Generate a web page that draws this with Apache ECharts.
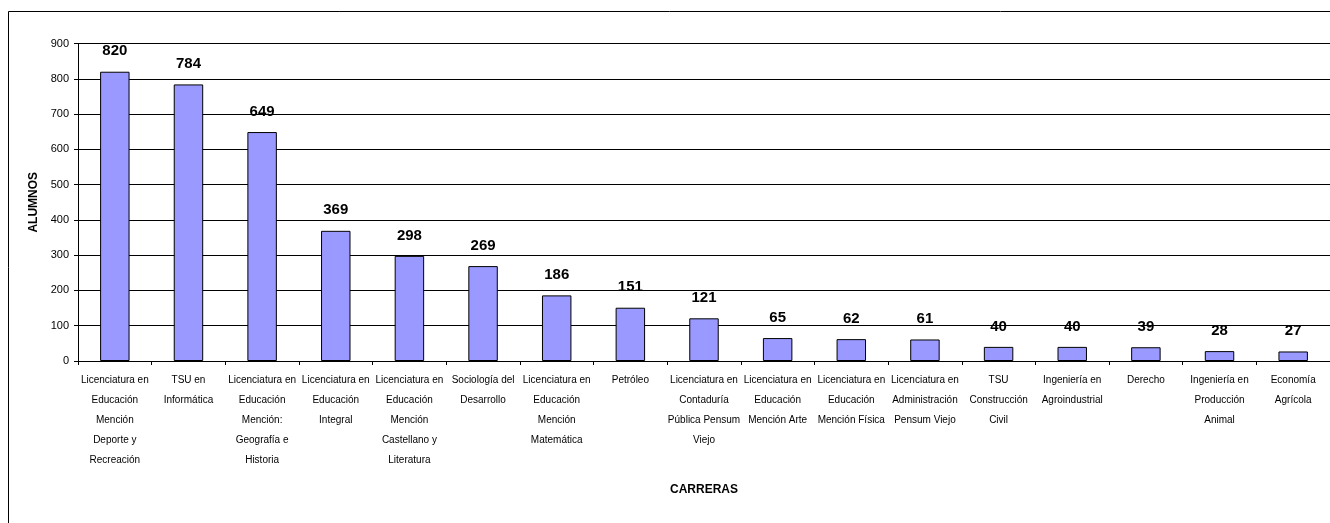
<!DOCTYPE html>
<html><head><meta charset="utf-8">
<script src="https://cdn.jsdelivr.net/npm/echarts@6/dist/echarts.min.js"></script>
<style>html,body{margin:0;padding:0;background:#fff}#c{width:1330px;height:523px}</style>
</head><body><div id="c"></div>
<script>
const categories = [
  "Licenciatura en\nEducación\nMención\nDeporte y\nRecreación",
  "TSU en\nInformática",
  "Licenciatura en\nEducación\nMención:\nGeografía e\nHistoria",
  "Licenciatura en\nEducación\nIntegral",
  "Licenciatura en\nEducación\nMención\nCastellano y\nLiteratura",
  "Sociología del\nDesarrollo",
  "Licenciatura en\nEducación\nMención\nMatemática",
  "Petróleo",
  "Licenciatura en\nContaduría\nPública Pensum\nViejo",
  "Licenciatura en\nEducación\nMención Arte",
  "Licenciatura en\nEducación\nMención Física",
  "Licenciatura en\nAdministración\nPensum Viejo",
  "TSU\nConstrucción\nCivil",
  "Ingeniería en\nAgroindustrial",
  "Derecho",
  "Ingeniería en\nProducción\nAnimal",
  "Economía\nAgrícola"
];
const alumnos = [820, 784, 649, 369, 298, 269, 186, 151, 121, 65, 62, 61, 40, 40, 39, 28, 27];
const yTicks = { min: 0, max: 900, interval: 100 };

const narrow = "'Liberation Sans Narrow', 'Arial Narrow', 'Liberation Sans', Arial, sans-serif";
const chart = echarts.init(document.getElementById('c'), null, {renderer: 'canvas'});
chart.setOption({
  animation: false,
  backgroundColor: '#fff',
  graphic: [{
    type: 'rect', shape: {x: 8.5, y: 11.5, width: 1400, height: 600},
    style: {fill: 'none', stroke: '#000', lineWidth: 1}, silent: true, z: -1
  }],
  grid: {left: 78, right: 0, top: 43.5, bottom: 162},
  xAxis: {
    type: 'category', data: categories,
    name: 'CARRERAS', nameLocation: 'middle', nameGap: 123,
    nameTextStyle: {fontFamily: "'Liberation Sans', Arial, sans-serif", fontWeight: 'bold', fontSize: 12, color: '#000'},
    axisLine: {lineStyle: {color: '#000', width: 1}},
    axisTick: {show: true, length: 4, lineStyle: {color: '#000'}},
    axisLabel: {interval: 0, fontFamily: narrow, fontSize: 10, color: '#000', lineHeight: 20, margin: 9}
  },
  yAxis: {
    type: 'value', min: yTicks.min, max: yTicks.max, interval: yTicks.interval,
    name: 'ALUMNOS', nameLocation: 'middle', nameGap: 37, nameRotate: 90,
    nameTextStyle: {fontFamily: "'Liberation Sans', Arial, sans-serif", fontWeight: 'bold', fontSize: 12, color: '#000'},
    axisLine: {show: true, lineStyle: {color: '#000', width: 1}},
    axisTick: {show: true, length: 4, lineStyle: {color: '#000'}},
    axisLabel: {fontFamily: narrow, fontSize: 11, color: '#000', margin: 9},
    splitLine: {show: true, lineStyle: {color: '#000', width: 1}}
  },
  series: [{
    type: 'bar', data: alumnos, barCategoryGap: '60%',
    itemStyle: {color: '#9999ff', borderColor: '#000', borderWidth: 1},
    label: {show: true, position: 'top', distance: 13, fontFamily: narrow, fontWeight: 'bold', fontSize: 15, color: '#000'}
  }]
});
</script></body></html>
